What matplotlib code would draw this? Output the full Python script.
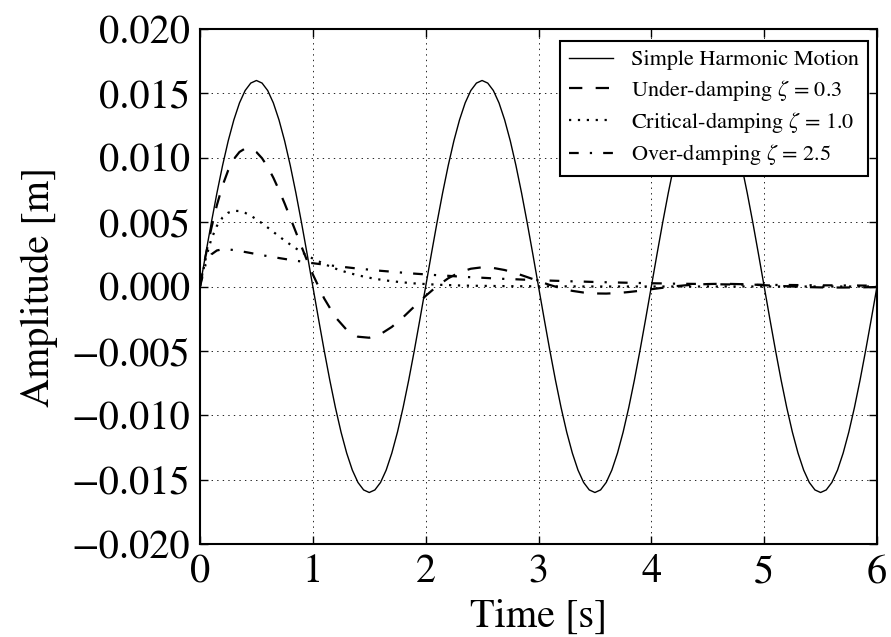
import matplotlib
matplotlib.use('Agg')
import matplotlib.pyplot as plt
from matplotlib.ticker import FuncFormatter

# --- Data ---
# simple harmonic motion, sampled every 0.05 s
t_shm = [
    0.00, 0.05, 0.10, 0.15, 0.20, 0.25, 0.30, 0.35, 0.40, 0.45,
    0.50, 0.55, 0.60, 0.65, 0.70, 0.75, 0.80, 0.85, 0.90, 0.95,
    1.00, 1.05, 1.10, 1.15, 1.20, 1.25, 1.30, 1.35, 1.40, 1.45,
    1.50, 1.55, 1.60, 1.65, 1.70, 1.75, 1.80, 1.85, 1.90, 1.95,
    2.00, 2.05, 2.10, 2.15, 2.20, 2.25, 2.30, 2.35, 2.40, 2.45,
    2.50, 2.55, 2.60, 2.65, 2.70, 2.75, 2.80, 2.85, 2.90, 2.95,
    3.00, 3.05, 3.10, 3.15, 3.20, 3.25, 3.30, 3.35, 3.40, 3.45,
    3.50, 3.55, 3.60, 3.65, 3.70, 3.75, 3.80, 3.85, 3.90, 3.95,
    4.00, 4.05, 4.10, 4.15, 4.20, 4.25, 4.30, 4.35, 4.40, 4.45,
    4.50, 4.55, 4.60, 4.65, 4.70, 4.75, 4.80, 4.85, 4.90, 4.95,
    5.00, 5.05, 5.10, 5.15, 5.20, 5.25, 5.30, 5.35, 5.40, 5.45,
    5.50, 5.55, 5.60, 5.65, 5.70, 5.75, 5.80, 5.85, 5.90, 5.95,
    6.00,
]
shm = [
    0.0, 0.00250, 0.00494, 0.00726, 0.00940, 0.01131, 0.01294, 0.01426, 0.01522, 0.01580,
    0.01600, 0.01580, 0.01522, 0.01426, 0.01294, 0.01131, 0.00940, 0.00726, 0.00494, 0.00250,
    0.0, -0.00250, -0.00494, -0.00726, -0.00940, -0.01131, -0.01294, -0.01426, -0.01522, -0.01580,
    -0.01600, -0.01580, -0.01522, -0.01426, -0.01294, -0.01131, -0.00940, -0.00726, -0.00494, -0.00250,
    0.0, 0.00250, 0.00494, 0.00726, 0.00940, 0.01131, 0.01294, 0.01426, 0.01522, 0.01580,
    0.01600, 0.01580, 0.01522, 0.01426, 0.01294, 0.01131, 0.00940, 0.00726, 0.00494, 0.00250,
    0.0, -0.00250, -0.00494, -0.00726, -0.00940, -0.01131, -0.01294, -0.01426, -0.01522, -0.01580,
    -0.01600, -0.01580, -0.01522, -0.01426, -0.01294, -0.01131, -0.00940, -0.00726, -0.00494, -0.00250,
    0.0, 0.00250, 0.00494, 0.00726, 0.00940, 0.01131, 0.01294, 0.01426, 0.01522, 0.01580,
    0.01600, 0.01580, 0.01522, 0.01426, 0.01294, 0.01131, 0.00940, 0.00726, 0.00494, 0.00250,
    0.0, -0.00250, -0.00494, -0.00726, -0.00940, -0.01131, -0.01294, -0.01426, -0.01522, -0.01580,
    -0.01600, -0.01580, -0.01522, -0.01426, -0.01294, -0.01131, -0.00940, -0.00726, -0.00494, -0.00250,
    0.0,
]

# damped responses: finer samples during the first second
t_damped = [
    0.00, 0.05, 0.10, 0.15, 0.20, 0.25, 0.30, 0.35, 0.40, 0.45,
    0.50, 0.55, 0.60, 0.65, 0.70, 0.75, 0.80, 0.85, 0.90, 0.95, 1.00,
    1.1, 1.2, 1.3, 1.4, 1.5, 1.6, 1.7, 1.8, 1.9, 2.0,
    2.1, 2.2, 2.3, 2.4, 2.5, 2.6, 2.7, 2.8, 2.9, 3.0,
    3.1, 3.2, 3.3, 3.4, 3.5, 3.6, 3.7, 3.8, 3.9, 4.0,
    4.1, 4.2, 4.3, 4.4, 4.5, 4.6, 4.7, 4.8, 4.9, 5.0,
    5.1, 5.2, 5.3, 5.4, 5.5, 5.6, 5.7, 5.8, 5.9, 6.0,
]
under = [
    0.0, 0.00239, 0.00451, 0.00633, 0.00784, 0.00903, 0.00990, 0.01045, 0.01072, 0.01071,
    0.01044, 0.00996, 0.00928, 0.00845, 0.00749, 0.00645, 0.00534, 0.00422, 0.00309, 0.00199, 0.00094,
    -0.00092, -0.00238, -0.00337, -0.00390, -0.00398, -0.00370, -0.00314, -0.00239, -0.00155, -0.00073,
    0.00002, 0.00064, 0.00110, 0.00138, 0.00149, 0.00144, 0.00128, 0.00103, 0.00073, 0.00042,
    0.00012, -0.00014, -0.00034, -0.00047, -0.00054, -0.00055, -0.00051, -0.00043, -0.00033, -0.00021,
    -0.00010, 0.00001, 0.00009, 0.00015, 0.00019, 0.00021, 0.00020, 0.00018, 0.00014, 0.00010,
    0.00006, 0.00002, -0.00002, -0.00005, -0.00007, -0.00008, -0.00008, -0.00007, -0.00006, -0.00004,
]
critical = [
    0.0, 0.00215, 0.00367, 0.00471, 0.00536, 0.00573, 0.00588, 0.00586, 0.00572, 0.00550,
    0.00522, 0.00491, 0.00458, 0.00424, 0.00390, 0.00357, 0.00326, 0.00296, 0.00268, 0.00241, 0.00217,
    0.00175, 0.00139, 0.00110, 0.00087, 0.00068, 0.00053, 0.00041, 0.00032, 0.00024, 0.00019,
    0.00014, 0.00011, 0.00008, 0.00006, 0.00005, 0.00004, 0.00003, 0.00002, 0.00002, 0.00001,
    0.00001, 0.00001, 0.00001, 0.0, 0.0, 0.0, 0.0, 0.0, 0.0, 0.0,
    0.0, 0.0, 0.0, 0.0, 0.0, 0.0, 0.0, 0.0, 0.0, 0.0,
    0.0, 0.0, 0.0, 0.0, 0.0, 0.0, 0.0, 0.0, 0.0, 0.0,
]
over = [
    0.0, 0.00173, 0.00249, 0.00280, 0.00289, 0.00288, 0.00283, 0.00276, 0.00268, 0.00260,
    0.00251, 0.00243, 0.00236, 0.00228, 0.00221, 0.00214, 0.00207, 0.00200, 0.00194, 0.00187, 0.00181,
    0.00170, 0.00159, 0.00149, 0.00139, 0.00131, 0.00122, 0.00115, 0.00107, 0.00100, 0.00094,
    0.00088, 0.00083, 0.00077, 0.00072, 0.00068, 0.00063, 0.00059, 0.00056, 0.00052, 0.00049,
    0.00046, 0.00043, 0.00040, 0.00038, 0.00035, 0.00033, 0.00031, 0.00029, 0.00027, 0.00025,
    0.00024, 0.00022, 0.00021, 0.00020, 0.00018, 0.00017, 0.00016, 0.00015, 0.00014, 0.00013,
    0.00012, 0.00012, 0.00011, 0.00010, 0.00009, 0.00009, 0.00008, 0.00008, 0.00007, 0.00007,
]

labels = [
    "Simple Harmonic Motion",
    r"Under-damping $\zeta$ = 0.3",
    r"Critical-damping $\zeta$ = 1.0",
    r"Over-damping $\zeta$ = 2.5",
]
x_ticks = [0, 1, 2, 3, 4, 5, 6]
y_ticks = [-0.020, -0.015, -0.010, -0.005, 0.000, 0.005, 0.010, 0.015, 0.020]

# --- Style ---
plt.rcParams.update({
    'font.family': 'STIXGeneral',
    'mathtext.fontset': 'stix',
    'font.size': 29,
    'lines.scale_dashes': False,
    'axes.unicode_minus': True,
})

fig = plt.figure(figsize=(8.91, 6.37), dpi=100, facecolor='white')
ax = fig.add_axes([200 / 891, 1 - 544 / 637, 677 / 891, 515 / 637])

ax.plot(t_shm, shm, color='k', lw=1.0, ls='-', label=labels[0])
ax.plot(t_damped, under, color='k', lw=1.6, ls=(0, (9.6, 9.6)),
        dash_capstyle='butt', label=labels[1])
ax.plot(t_damped, critical, color='k', lw=1.6, ls=(0, (1.6, 4.8)),
        dash_capstyle='butt', label=labels[2])
ax.plot(t_damped, over, color='k', lw=1.6, ls=(0, (7, 8, 1.6, 8)),
        dash_capstyle='butt', label=labels[3])

ax.set_xlim(0, 6)
ax.set_ylim(-0.02, 0.02)
ax.set_xticks(x_ticks)
ax.set_yticks(y_ticks)
ax.yaxis.set_major_formatter(FuncFormatter(lambda v, p: f"{v:.3f}".replace('-', '\u2212')))
ax.tick_params(direction='in', top=True, right=True, length=6, width=1,
               labelsize=29, pad=7)
ax.grid(True, color='k', ls=(0, (1, 3)), lw=0.6)
for sp in ax.spines.values():
    sp.set_linewidth(1.5)

ax.set_xlabel("Time [s]", fontsize=29, labelpad=5)
ax.set_ylabel("Amplitude [m]", fontsize=29, labelpad=10)

leg = ax.legend(loc='upper right', bbox_to_anchor=(0.9867, 0.9767), borderaxespad=0,
                fontsize=16, fancybox=False, framealpha=1, edgecolor='k',
                handlelength=2.0, handletextpad=0.8, borderpad=0.4, labelspacing=0.33)
leg.get_frame().set_linewidth(1.5)

fig.savefig("out.png", dpi=100, facecolor='white')
